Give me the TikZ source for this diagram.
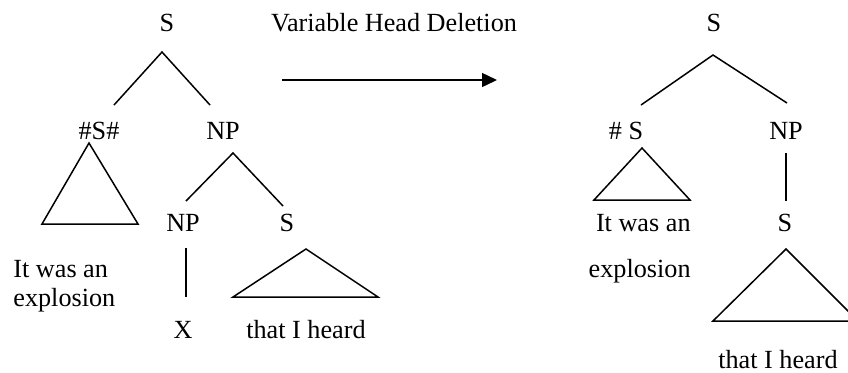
\documentclass[tikz,border=0pt]{standalone}
\usepackage{fontspec}
\setmainfont{Liberation Serif}
\usetikzlibrary{arrows.meta}
\begin{document}
\begin{tikzpicture}[x=0.5pt,y=-0.5pt,
  lbl/.style={inner sep=0pt,anchor=base,font=\fontsize{13.1pt}{15pt}\selectfont},
  edge/.style={line width=0.75pt,line join=miter},
  tri/.style={line width=0.75pt,line join=miter}]
\useasboundingbox (0,0) rectangle (848,372);
% ---------- left tree ----------
\node[lbl] (S1) at (167,31.5) {S};
\node[lbl] (SS1) at (99,139) {\#S\#};
\node[lbl] (NP1) at (223,139) {NP};
\node[lbl] (NP2) at (183,231) {NP};
\node[lbl] (S2) at (287,231) {S};
\node[lbl,anchor=base west] (t1) at (13,277) {It was an};
\node[lbl,anchor=base west] (t2) at (13,306) {explosion};
\node[lbl] (X) at (183,338) {X};
\node[lbl] (h1) at (306,338) {that I heard};
\coordinate (a1) at (162,52);
\coordinate (a1l) at (114,105);
\coordinate (a1r) at (210,105);
\draw[edge] (a1l) -- (a1) -- (a1r);
\coordinate (a2) at (233,153);
\coordinate (a2l) at (186,201);
\coordinate (a2r) at (283,206);
\draw[edge] (a2l) -- (a2) -- (a2r);
\draw[tri] (89,143) -- (138,224) -- (42,224) -- cycle;
\coordinate (v1t) at (186,248);
\coordinate (v1b) at (186,297);
\draw[edge] (v1t) -- (v1b);
\draw[tri] (306,249) -- (378,297) -- (233,297) -- cycle;
% ---------- arrow ----------
\node[lbl] (lab) at (394,31) {Variable Head Deletion};
\coordinate (ar1) at (282,80);
\coordinate (ar2) at (497,80);
\draw[line width=0.75pt,-{Triangle[length=7.5pt,width=7pt]}] (ar1) -- (ar2);
% ---------- right tree ----------
\node[lbl] (S3) at (714,31.5) {S};
\node[lbl] (SS2) at (626,139) {\# S};
\node[lbl] (NP3) at (786,139) {NP};
\node[lbl,anchor=base east] (t3) at (691,231) {It was an};
\node[lbl,anchor=base east] (t4) at (691,277) {explosion};
\node[lbl] (S4) at (785,231) {S};
\node[lbl] (h2) at (778,368) {that I heard};
\coordinate (a3) at (713,55);
\coordinate (a3l) at (641,105);
\coordinate (a3r) at (787,103);
\draw[edge] (a3l) -- (a3) -- (a3r);
\draw[tri] (642,148) -- (690,200) -- (594,200) -- cycle;
\coordinate (v2t) at (786,153);
\coordinate (v2b) at (786,201);
\draw[edge] (v2t) -- (v2b);
\draw[tri] (786,249) -- (858,321) -- (713,321) -- cycle;
\end{tikzpicture}
\end{document}
